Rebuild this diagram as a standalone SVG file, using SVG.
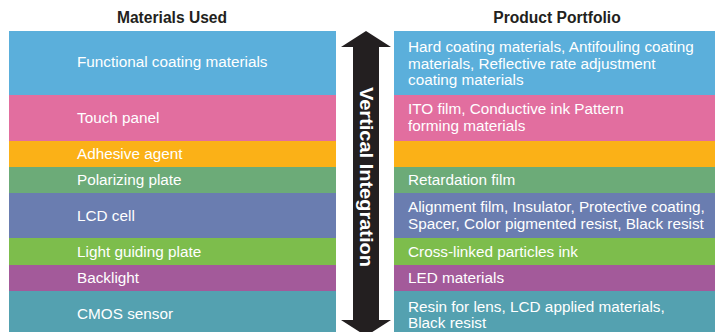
<svg xmlns="http://www.w3.org/2000/svg" width="715" height="332" viewBox="0 0 715 332">
<style>
.hd{font-family:"Liberation Sans",Arial,sans-serif;font-weight:bold;font-size:15.6px;fill:#231F20;text-anchor:middle}
.t{font-family:"Liberation Sans",Arial,sans-serif;font-size:15.3px;fill:#ffffff}
.vt{font-family:"Liberation Sans",Arial,sans-serif;font-weight:bold;font-size:17.5px;fill:#ffffff;text-anchor:middle}
</style>
<rect width="715" height="332" fill="#ffffff"/>
<text class="hd" x="172" y="22.5">Materials Used</text>
<text class="hd" x="557" y="22.5">Product Portfolio</text>

<g id="row-functional-coating">
<rect x="9" y="31" width="327" height="64" fill="#5BAFDB"/>
<rect x="394" y="31" width="321" height="64" fill="#5BAFDB"/>
<text class="t" x="77" y="67">Functional coating materials</text>
<text class="t" x="408" y="52">Hard coating materials, Antifouling coating</text>
<text class="t" x="408" y="68.5">materials, Reflective rate adjustment</text>
<text class="t" x="408" y="85">coating materials</text>
</g>
<g id="row-touch-panel">
<rect x="9" y="95" width="327" height="46" fill="#E26E9F"/>
<rect x="394" y="95" width="321" height="46" fill="#E26E9F"/>
<text class="t" x="77" y="123">Touch panel</text>
<text class="t" x="408" y="114">ITO film, Conductive ink Pattern</text>
<text class="t" x="408" y="131">forming materials</text>
</g>
<g id="row-adhesive">
<rect x="9" y="141" width="327" height="26" fill="#FBB117"/>
<rect x="394" y="141" width="321" height="26" fill="#FBB117"/>
<text class="t" x="77" y="159">Adhesive agent</text>
</g>
<g id="row-polarizing">
<rect x="9" y="167" width="327" height="26" fill="#6CAB78"/>
<rect x="394" y="167" width="321" height="26" fill="#6CAB78"/>
<text class="t" x="77" y="185">Polarizing plate</text>
<text class="t" x="408" y="185">Retardation film</text>
</g>
<g id="row-lcd">
<rect x="9" y="193" width="327" height="45" fill="#6A7DB0"/>
<rect x="394" y="193" width="321" height="45" fill="#6A7DB0"/>
<text class="t" x="77" y="221">LCD cell</text>
<text class="t" x="408" y="212">Alignment film, Insulator, Protective coating,</text>
<text class="t" x="408" y="229">Spacer, Color pigmented resist, Black resist</text>
</g>
<g id="row-light-guiding">
<rect x="9" y="238" width="327" height="27" fill="#7DBD4C"/>
<rect x="394" y="238" width="321" height="27" fill="#7DBD4C"/>
<text class="t" x="77" y="257">Light guiding plate</text>
<text class="t" x="408" y="257">Cross-linked particles ink</text>
</g>
<g id="row-backlight">
<rect x="9" y="265" width="327" height="26" fill="#A35A9A"/>
<rect x="394" y="265" width="321" height="26" fill="#A35A9A"/>
<text class="t" x="77" y="283">Backlight</text>
<text class="t" x="408" y="283">LED materials</text>
</g>
<g id="row-cmos">
<rect x="9" y="291" width="327" height="41" fill="#54A1B0"/>
<rect x="394" y="291" width="321" height="41" fill="#54A1B0"/>
<text class="t" x="77" y="319">CMOS sensor</text>
<text class="t" x="408" y="312">Resin for lens, LCD applied materials,</text>
<text class="t" x="408" y="328">Black resist</text>
</g>

<g id="vertical-integration-arrow">
<polygon points="366,31 391,47 379,47 379,320 391,320 366,336 341,320 353,320 353,47 341,47" fill="#231F20"/>
<text class="vt" transform="translate(359.8,177) rotate(90)" textLength="180" lengthAdjust="spacingAndGlyphs">Vertical Integration</text>
</g>
</svg>
